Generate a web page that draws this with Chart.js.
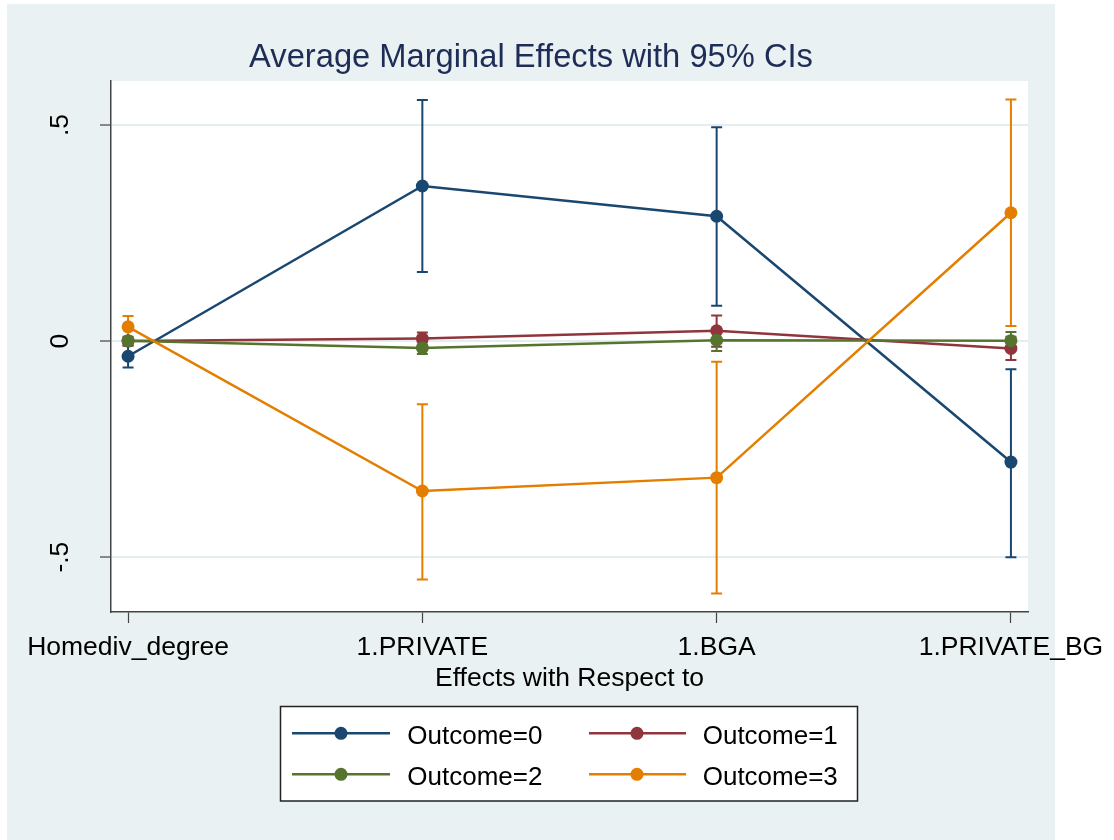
<!DOCTYPE html>
<html>
<head>
<meta charset="utf-8">
<title>Average Marginal Effects with 95% CIs</title>
<script src="https://cdn.jsdelivr.net/npm/chart.js@4.4.1/dist/chart.umd.min.js"></script>
<style>
  html, body { margin: 0; padding: 0; background: #ffffff; }
  #wrap { width: 1114px; height: 840px; position: relative; }
</style>
</head>
<body>
<div id="wrap"><canvas id="chart" width="1114" height="840"></canvas></div>
<script>
// Categories on the x axis (the variable each effect is taken with respect to)
const categories = ['Homediv_degree', '1.PRIVATE', '1.BGA', '1.PRIVATE_BG'];
const seriesNames = ['Outcome=0', 'Outcome=1', 'Outcome=2', 'Outcome=3'];

// Average marginal effects and 95% confidence bounds, one array per outcome
const est0 = [-0.035, 0.359, 0.289, -0.280];
const lo0  = [-0.061, 0.160, 0.082, -0.500];
const hi0  = [-0.010, 0.558, 0.495, -0.065];

const est1 = [0.000, 0.006, 0.024, -0.017];
const lo1  = [-0.010, -0.008, -0.013, -0.044];
const hi1  = [0.010, 0.020, 0.059, 0.010];

const est2 = [0.001, -0.016, 0.002, 0.001];
const lo2  = [-0.004, -0.030, -0.023, -0.019];
const hi2  = [0.006, -0.002, 0.027, 0.021];

const est3 = [0.033, -0.347, -0.316, 0.297];
const lo3  = [0.008, -0.552, -0.584, 0.035];
const hi3  = [0.058, -0.146, -0.048, 0.559];

// Y axis ticks
const yTicks = [-0.5, 0, 0.5];
const yTickLabels = ['-.5', '0', '.5'];

const estimates = [est0, est1, est2, est3];
const lowers = [lo0, lo1, lo2, lo3];
const uppers = [hi0, hi1, hi2, hi3];
const colors = ['#1a476f', '#90353b', '#55752f', '#e37e00'];

const FONT = '"Liberation Sans", Arial, Helvetica, sans-serif';
Chart.defaults.font.family = FONT;

// Page background, outer panel and white plot region
const backgroundPlugin = {
  id: 'panelBackground',
  beforeDraw(chart) {
    const { ctx, chartArea: a } = chart;
    ctx.save();
    ctx.fillStyle = '#ffffff';
    ctx.fillRect(0, 0, chart.width, chart.height);
    ctx.fillStyle = '#eaf1f3';
    ctx.fillRect(7, 4, 1048, 836);
    ctx.fillStyle = '#ffffff';
    ctx.fillRect(a.left, a.top, a.right - a.left, a.bottom - a.top);
    ctx.restore();
  }
};

// Capped confidence-interval spikes, drawn beneath the connected lines
const ciPlugin = {
  id: 'ciCaps',
  beforeDatasetsDraw(chart) {
    const { ctx, scales: { x, y } } = chart;
    ctx.save();
    ctx.lineWidth = 2;
    ctx.lineCap = 'butt';
    for (let i = 0; i < estimates.length; i++) {
      ctx.strokeStyle = colors[i];
      for (let j = 0; j < categories.length; j++) {
        const px = x.getPixelForValue(j);
        const yl = y.getPixelForValue(lowers[i][j]);
        const yh = y.getPixelForValue(uppers[i][j]);
        ctx.beginPath();
        ctx.moveTo(px, yl); ctx.lineTo(px, yh);
        ctx.moveTo(px - 5.5, yl); ctx.lineTo(px + 5.5, yl);
        ctx.moveTo(px - 5.5, yh); ctx.lineTo(px + 5.5, yh);
        ctx.stroke();
      }
    }
    ctx.restore();
  }
};

// Title, rotated y tick labels and the boxed two-column legend
const decorPlugin = {
  id: 'decor',
  afterDraw(chart) {
    const { ctx, scales: { y } } = chart;
    ctx.save();

    ctx.fillStyle = '#1e2d57';
    ctx.font = '32.7px ' + FONT;
    ctx.textAlign = 'center';
    ctx.textBaseline = 'alphabetic';
    ctx.fillText('Average Marginal Effects with 95% CIs', 531, 66.7);

    ctx.fillStyle = '#000000';
    ctx.font = '26.5px ' + FONT;
    yTicks.forEach((v, k) => {
      const py = y.getPixelForValue(v);
      ctx.save();
      ctx.translate(68, py);
      ctx.rotate(-Math.PI / 2);
      ctx.textAlign = 'center';
      ctx.textBaseline = 'alphabetic';
      ctx.fillText(yTickLabels[k], 0, 0);
      ctx.restore();
    });

    // legend
    ctx.fillStyle = '#ffffff';
    ctx.fillRect(280.5, 706.5, 577, 94.5);
    ctx.strokeStyle = '#222222';
    ctx.lineWidth = 1.5;
    ctx.strokeRect(280.5, 706.5, 577, 94.5);

    const colX = [[292, 390, 341, 407.3], [589, 686, 637, 702.7]];
    const rowY = [733.3, 774.3];
    chart.data.datasets.forEach((ds, i) => {
      const c = colX[i % 2];
      const ry = rowY[Math.floor(i / 2)];
      ctx.strokeStyle = ds.borderColor;
      ctx.lineWidth = 2.5;
      ctx.beginPath();
      ctx.moveTo(c[0], ry); ctx.lineTo(c[1], ry);
      ctx.stroke();
      ctx.fillStyle = ds.borderColor;
      ctx.beginPath();
      ctx.arc(c[2], ry, 6.5, 0, Math.PI * 2);
      ctx.fill();
      ctx.fillStyle = '#000000';
      ctx.font = '26px ' + FONT;
      ctx.textAlign = 'left';
      ctx.textBaseline = 'alphabetic';
      ctx.fillText(ds.label, c[3], ry + 11);
    });
    ctx.restore();
  }
};

const X_AXIS_HEIGHT = 90;

new Chart(document.getElementById('chart'), {
  type: 'line',
  data: {
    datasets: seriesNames.map((name, i) => ({
      label: name,
      data: estimates[i].map((v, j) => ({ x: j, y: v })),
      borderColor: colors[i],
      backgroundColor: colors[i],
      pointBackgroundColor: colors[i],
      pointBorderWidth: 0,
      pointRadius: 6.5,
      borderWidth: 2.5,
      tension: 0,
      fill: false,
      order: 3 - i
    }))
  },
  options: {
    responsive: false,
    devicePixelRatio: 1,
    animation: false,
    layout: { padding: { left: 7, top: 81, right: 86, bottom: 840 - 612 - X_AXIS_HEIGHT } },
    plugins: {
      legend: { display: false },
      tooltip: { enabled: false },
      title: { display: false }
    },
    scales: {
      x: {
        type: 'linear',
        position: 'bottom',
        min: -0.058,
        max: 3.058,
        afterBuildTicks: s => { s.ticks = categories.map((_, i) => ({ value: i })); },
        afterFit: s => { s.height = X_AXIS_HEIGHT; s.paddingLeft = 0; s.paddingRight = 0; },
        ticks: {
          callback: v => categories[v],
          font: { size: 26.5 },
          color: '#000000',
          padding: 8.5,
          autoSkip: false,
          minRotation: 0,
          maxRotation: 0
        },
        grid: { drawOnChartArea: false, drawTicks: true, tickLength: 11, tickColor: '#444444', tickWidth: 1.2 },
        border: { display: true, color: '#444444', width: 1.5 },
        title: {
          display: true,
          text: 'Effects with Respect to',
          font: { size: 26.5 },
          color: '#000000',
          padding: { top: 0, bottom: 7.6 }
        }
      },
      y: {
        type: 'linear',
        min: -0.627,
        max: 0.602,
        afterBuildTicks: s => { s.ticks = yTicks.map(v => ({ value: v })); },
        afterFit: s => { s.width = 104; s.paddingTop = 0; s.paddingBottom = 0; },
        ticks: { display: false },
        grid: { color: '#e4edf0', lineWidth: 2, drawTicks: true, tickLength: 11, tickColor: '#444444', tickWidth: 1.2 },
        border: { display: true, color: '#444444', width: 1.5 }
      }
    }
  },
  plugins: [backgroundPlugin, ciPlugin, decorPlugin]
});
</script>
</body>
</html>
